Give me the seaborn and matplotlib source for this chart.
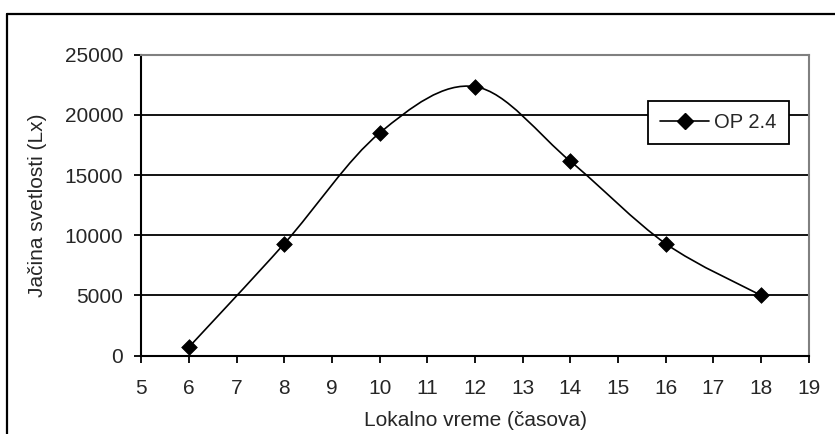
import numpy as np
import pandas as pd
import matplotlib
matplotlib.use("Agg")
import matplotlib.pyplot as plt
import seaborn as sns
from matplotlib.path import Path
from matplotlib.patches import PathPatch
from matplotlib.lines import Line2D

# data
hours = [6, 8, 10, 12, 14, 16, 18]
lux = [700, 9300, 18500, 22350, 16150, 9300, 5000]
series_name = "OP 2.4"
x_label = "Lokalno vreme (časova)"
y_label = "Jačina svetlosti (Lx)"
x_ticks = list(range(5, 20))
y_ticks = [0, 5000, 10000, 15000, 20000, 25000]

df = pd.DataFrame({"hour": hours, "lux": lux})

FS = 15

sns.set_style("white")
plt.rcParams["font.family"] = ["Liberation Sans", "DejaVu Sans"]
plt.rcParams["font.size"] = FS

W, H = 835, 434
fig = plt.figure(figsize=(W / 100, H / 100), dpi=100)
fig.patch.set_facecolor("white")
ax = fig.add_axes([141.3 / W, 1 - 355.5 / H, (808.7 - 141.3) / W, (355.5 - 54.8) / H])

# excel-style smoothed line: cubic bezier segments with catmull-rom control points
pts = df[["hour", "lux"]].to_numpy(dtype=float)
verts = [pts[0]]
codes = [Path.MOVETO]
n = len(pts)
for i in range(n - 1):
    p0 = pts[max(i - 1, 0)]
    p1 = pts[i]
    p2 = pts[i + 1]
    p3 = pts[min(i + 2, n - 1)]
    c1 = p1 + (p2 - p0) / 6.0
    c2 = p2 - (p3 - p1) / 6.0
    verts += [c1, c2, p2]
    codes += [Path.CURVE4] * 3
curve = PathPatch(Path(verts, codes), facecolor="none", edgecolor="black", lw=1.2, zorder=3)
ax.add_patch(curve)

sns.scatterplot(data=df, x="hour", y="lux", marker="D", s=64, color="black",
                edgecolor="black", linewidth=0.5, zorder=4, ax=ax, legend=False)

ax.set_xlim(5, 19)
ax.set_ylim(0, 25000)
ax.set_xticks(x_ticks)
ax.set_yticks(y_ticks)
ax.set_xticklabels([str(t) for t in x_ticks])
ax.set_yticklabels([str(t) for t in y_ticks])

for y in y_ticks[1:-1]:
    ax.axhline(y, color="black", lw=1.3, zorder=1)

for side in ["top", "right"]:
    ax.spines[side].set_color("#808080")
    ax.spines[side].set_linewidth(1.5)
for side in ["left", "bottom"]:
    ax.spines[side].set_color("black")
    ax.spines[side].set_linewidth(1.5)

ax.tick_params(axis="x", direction="out", length=5, width=1.3, pad=12, color="black", bottom=True)
ax.tick_params(axis="y", direction="out", length=5, width=1.3, pad=8, color="black", left=True)

ax.set_xlabel(x_label, fontsize=FS)
ax.set_ylabel(y_label, fontsize=FS)
ax.xaxis.set_label_coords(0.5, -0.183)
ax.yaxis.set_label_coords(-0.141, 0.5)

handle = Line2D([], [], color="black", lw=1.2, marker="D", markersize=8)
leg = ax.legend([handle], [series_name], loc="upper left",
                bbox_to_anchor=(648 / W, 1 - 100.5 / H), bbox_transform=fig.transFigure,
                frameon=True, fancybox=False, framealpha=1, edgecolor="black",
                handlelength=2.45, handletextpad=0.25, borderpad=0.6, borderaxespad=0,
                fontsize=14.5)
leg.get_frame().set_linewidth(1.3)

# outer chart frame (only top and left edges fall inside the picture)
fig.add_artist(Line2D([7 / W, 1.0], [1 - 14 / H, 1 - 14 / H], transform=fig.transFigure, color="black", lw=1.6))
fig.add_artist(Line2D([7 / W, 7 / W], [1 - 14 / H, 0.0], transform=fig.transFigure, color="black", lw=1.6))

fig.savefig("out.png", dpi=100, facecolor="white")
